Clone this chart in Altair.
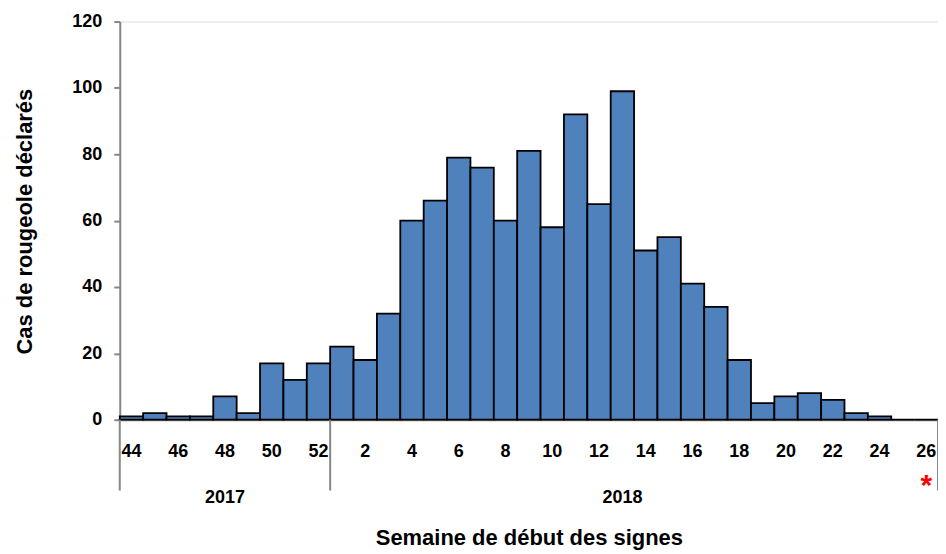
import altair as alt
import pandas as pd

weeks = [str(w) for w in range(44, 53)] + [str(w) for w in range(1, 27)]
cases = [1, 2, 1, 1, 7, 2, 17, 12, 17,
         22, 18, 32, 60, 66, 79, 76, 60, 81, 58, 92, 65, 99, 51, 55, 41, 34,
         18, 5, 7, 8, 6, 2, 1, 0, 0]
years = ["2017", "2018"]
year_pos = ["48", "13"]

FONT = "Liberation Sans Narrow, Arial Narrow, Liberation Sans"
GRAY = "#868686"

df = pd.DataFrame({"week": weeks, "cases": cases})
xs = alt.Scale(domain=weeks, paddingInner=0, paddingOuter=0)

bars = alt.Chart(df).mark_bar(
    color="#4F81BD", stroke="black", strokeWidth=1.8
).encode(
    x=alt.X("week:O", scale=xs, sort=weeks,
            axis=alt.Axis(title="Semaine de début des signes", labelAngle=0,
                          labelExpr="parseInt(datum.value) % 2 == 0 ? datum.value : ''",
                          ticks=False, domainColor=GRAY, domainWidth=2,
                          labelFont=FONT, labelFontSize=18, labelFontWeight="bold",
                          labelColor="black", labelPadding=23, labelBaseline="top",
                          titleFont=FONT, titleFontSize=22, titleFontWeight="bold",
                          titleColor="black", titleY=125, titleBaseline="alphabetic")),
    y=alt.Y("cases:Q", scale=alt.Scale(domain=[0, 120]),
            axis=alt.Axis(title="Cas de rougeole déclarés", values=[0, 20, 40, 60, 80, 100, 120],
                          grid=False, domainColor=GRAY, domainWidth=2,
                          tickColor=GRAY, tickWidth=2, tickSize=6,
                          labelFont=FONT, labelFontSize=18, labelFontWeight="bold",
                          labelColor="black", labelPadding=12,
                          titleFont=FONT, titleFontSize=22, titleFontWeight="bold",
                          titleColor="black", titleX=-95, titleY=200,
                          titleAngle=270, titleBaseline="middle", titleAlign="center")),
)

sep_start = alt.Chart(pd.DataFrame({"week": ["44", "1"]})).mark_rule(
    color=GRAY, strokeWidth=2
).encode(x=alt.X("week:O", scale=xs, sort=weeks, bandPosition=0),
         y=alt.value(399), y2=alt.value(470))

sep_end = alt.Chart(pd.DataFrame({"week": ["26"]})).mark_rule(
    color=GRAY, strokeWidth=2
).encode(x=alt.X("week:O", scale=xs, sort=weeks, bandPosition=1),
         y=alt.value(399), y2=alt.value(470))

year_text = alt.Chart(pd.DataFrame({"week": year_pos, "year": years})).mark_text(
    font=FONT, fontSize=18, fontWeight="bold", color="black", baseline="middle"
).encode(x=alt.X("week:O", scale=xs, sort=weeks), y=alt.value(477), text="year:N")

star = alt.Chart(pd.DataFrame({"week": ["26"], "t": ["*"]})).mark_text(
    font=FONT, fontSize=30, fontWeight="bold", color="red", baseline="middle"
).encode(x=alt.X("week:O", scale=xs, sort=weeks), y=alt.value(465), text="t:N")

chart = alt.layer(bars, sep_start, sep_end, year_text, star).properties(
    width=820, height=399,
    autosize=alt.AutoSizeParams(type="none"),
    padding={"left": 112, "top": 13, "right": 0, "bottom": 133},
).configure_view(stroke=None).configure(background="white")

chart.save("out.html", embed_options={"renderer": "svg", "actions": False})
